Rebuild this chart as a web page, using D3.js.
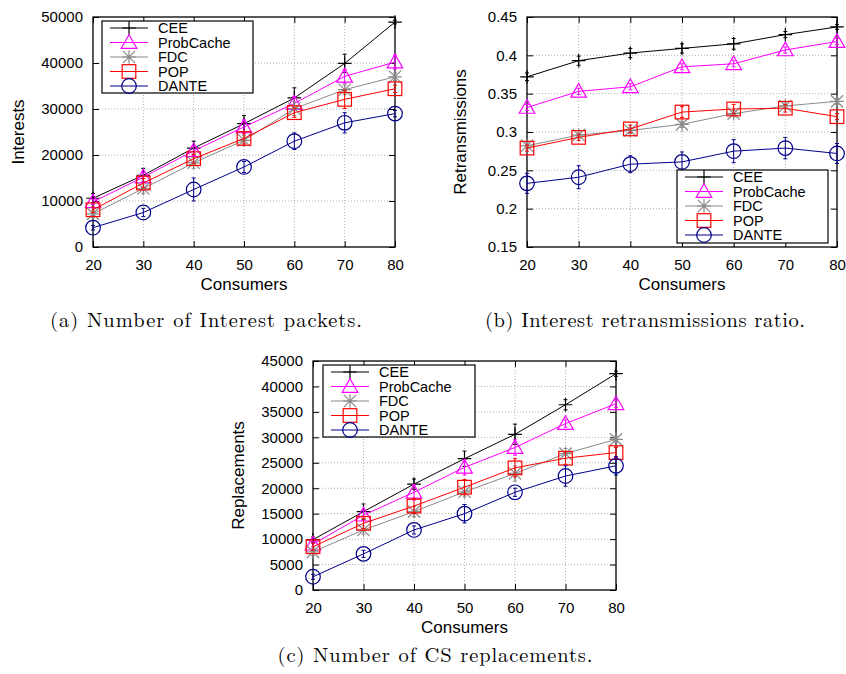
<!DOCTYPE html>
<html>
<head>
<meta charset="utf-8">
<script src="https://cdn.jsdelivr.net/npm/d3@7"></script>
<style>
  body { margin: 0; background: #fff; }
  svg { display: block; }
  .tick text { font-family: "Liberation Sans", Arial, sans-serif; }
</style>
</head>
<body>
<svg id="chart" width="846" height="674"></svg>
<script>
// consumers on the x axis, same for all three panels
const consumers = [20, 30, 40, 50, 60, 70, 80];
const seriesNames = ['CEE', 'ProbCache', 'FDC', 'POP', 'DANTE'];

// (a) number of Interest packets
const interestsCEE       = [10600, 15600, 21500, 26800, 32400, 39900, 48900];
const interestsProbCache = [9800, 15200, 20900, 26100, 31200, 37100, 40200];
const interestsFDC       = [7200, 12700, 18300, 23200, 30100, 34200, 37000];
const interestsPOP       = [8100, 13900, 19200, 23600, 29200, 32100, 34400];
const interestsDANTE     = [4200, 7500, 12500, 17400, 23000, 27000, 29000];
const interestsErr = [
  [1000, 1500, 1500, 1800, 2200, 2000, 400],
  [600, 1000, 1000, 1500, 1500, 1500, 1500],
  [800, 1000, 1200, 1000, 1500, 1000, 800],
  [600, 1000, 1000, 1200, 1000, 2000, 800],
  [500, 900, 2500, 1200, 1800, 2200, 700]
];
const interestsTicks = [0, 10000, 20000, 30000, 40000, 50000];

// (b) Interest retransmissions ratio
const retransCEE       = [0.372, 0.393, 0.403, 0.409, 0.415, 0.427, 0.437];
const retransProbCache = [0.332, 0.353, 0.359, 0.385, 0.389, 0.407, 0.418];
const retransFDC       = [0.282, 0.296, 0.302, 0.310, 0.324, 0.334, 0.340];
const retransPOP       = [0.279, 0.293, 0.304, 0.326, 0.330, 0.331, 0.320];
const retransDANTE     = [0.233, 0.241, 0.258, 0.261, 0.275, 0.279, 0.272];
const retransErr = [
  [0.005, 0.006, 0.006, 0.006, 0.007, 0.004, 0.003],
  [0.004, 0.004, 0.004, 0.004, 0.004, 0.004, 0.004],
  [0.004, 0.004, 0.004, 0.004, 0.004, 0.004, 0.004],
  [0.004, 0.004, 0.005, 0.007, 0.006, 0.005, 0.004],
  [0.013, 0.015, 0.011, 0.013, 0.015, 0.014, 0.013]
];
const retransTicks = [0.15, 0.2, 0.25, 0.3, 0.35, 0.4, 0.45];

// (c) number of CS replacements
const replCEE       = [9900, 15400, 20800, 25800, 30600, 36400, 42500];
const replProbCache = [9000, 14700, 19200, 24100, 28000, 32700, 36600];
const replFDC       = [7500, 11800, 15400, 19300, 22900, 26800, 29600];
const replPOP       = [8500, 13100, 16500, 20200, 24000, 25900, 27000];
const replDANTE     = [2600, 7100, 11800, 15000, 19200, 22400, 24400];
const replErr = [
  [500, 1500, 1000, 1500, 2000, 1000, 500],
  [500, 1000, 1500, 1500, 1500, 700, 700],
  [700, 800, 1000, 1000, 1500, 1000, 700],
  [700, 1000, 1500, 1500, 1800, 1200, 1000],
  [500, 700, 800, 1800, 800, 2000, 1800]
];
const replTicks = [0, 5000, 10000, 15000, 20000, 25000, 30000, 35000, 40000, 45000];

const colors = ['#000000', '#ff00ff', '#8a8a8a', '#ff0000', '#00008b'];
const shapes = ['plus', 'triangle', 'star', 'square', 'circle'];

const sans = '"Liberation Sans", Arial, Helvetica, sans-serif';
const serif = '"Latin Modern Roman", "DejaVu Serif", "Liberation Serif", serif';

const svg = d3.select('#chart');

function marker(g, shape, x, y, color) {
  const s = 6.8;
  const m = g.append('g').attr('transform', `translate(${x},${y})`)
    .attr('stroke', color).attr('fill', 'none').attr('stroke-width', 1.2);
  if (shape === 'plus') {
    m.append('path').attr('d', `M${-s},0H${s}M0,${-s}V${s}`);
  } else if (shape === 'triangle') {
    m.append('path').attr('d', `M0,${-s - 1}L${s + 1},${s - 1}L${-s - 1},${s - 1}Z`);
  } else if (shape === 'star') {
    const d = s * 0.9;
    m.append('path').attr('d', `M${-s},0H${s}M0,${-s}V${s}M${-d},${-d}L${d},${d}M${-d},${d}L${d},${-d}`);
  } else if (shape === 'square') {
    m.append('rect').attr('x', -s).attr('y', -s).attr('width', 2 * s).attr('height', 2 * s);
  } else if (shape === 'circle') {
    m.append('circle').attr('r', s + 0.5);
  }
}

function panel(cfg) {
  const { left, right, top, bottom } = cfg;
  const x = d3.scaleLinear().domain([20, 80]).range([left, right]);
  const y = d3.scaleLinear().domain(cfg.domain).range([bottom, top]);
  const g = svg.append('g');

  // grid (dotted)
  const grid = g.append('g').attr('stroke', '#9a9a9a').attr('stroke-width', 0.8)
    .attr('stroke-dasharray', '1,2');
  consumers.slice(1, -1).forEach(c => {
    grid.append('line').attr('x1', x(c)).attr('x2', x(c)).attr('y1', top).attr('y2', bottom);
  });
  cfg.ticks.slice(1, -1).forEach(t => {
    grid.append('line').attr('x1', left).attr('x2', right).attr('y1', y(t)).attr('y2', y(t));
  });

  // axes with inward ticks, mirrored
  const fmt = cfg.fmt;
  const ax = g.append('g').attr('transform', `translate(0,${bottom})`)
    .call(d3.axisBottom(x).tickValues(consumers).tickSize(-6).tickPadding(12).tickFormat(d3.format('d')));
  const axT = g.append('g').attr('transform', `translate(0,${top})`)
    .call(d3.axisTop(x).tickValues(consumers).tickSize(-6).tickFormat(''));
  const ay = g.append('g').attr('transform', `translate(${left},0)`)
    .call(d3.axisLeft(y).tickValues(cfg.ticks).tickSize(-6).tickPadding(10).tickFormat(fmt));
  const ayR = g.append('g').attr('transform', `translate(${right},0)`)
    .call(d3.axisRight(y).tickValues(cfg.ticks).tickSize(-6).tickFormat(''));
  [ax, axT, ay, ayR].forEach(a => {
    a.select('.domain').remove();
    a.selectAll('.tick line').attr('stroke', '#000').attr('stroke-width', 1);
    a.selectAll('.tick text').attr('font-size', 15).attr('fill', '#000').attr('font-family', sans);
  });
  g.append('rect').attr('x', left).attr('y', top).attr('width', right - left).attr('height', bottom - top)
    .attr('fill', 'none').attr('stroke', '#000').attr('stroke-width', 1.3);

  // series
  const line = d3.line().x((d, i) => x(consumers[i])).y(d => y(d));
  cfg.series.forEach((vals, si) => {
    const col = colors[si];
    const sg = g.append('g');
    sg.append('path').attr('d', line(vals)).attr('fill', 'none').attr('stroke', col).attr('stroke-width', 1);
    // error bars
    vals.forEach((v, i) => {
      const e = cfg.err[si][i];
      const cx = x(consumers[i]);
      sg.append('path')
        .attr('d', `M${cx},${y(v - e)}V${y(v + e)}M${cx - 2},${y(v - e)}H${cx + 2}M${cx - 2},${y(v + e)}H${cx + 2}`)
        .attr('stroke', col).attr('stroke-width', 1).attr('fill', 'none');
    });
    vals.forEach((v, i) => marker(sg, shapes[si], x(consumers[i]), y(v), col));
  });

  // legend
  const L = cfg.legend;
  const lg = g.append('g');
  lg.append('rect').attr('x', L.x).attr('y', L.y).attr('width', L.w).attr('height', L.h)
    .attr('fill', '#fff').attr('stroke', '#000').attr('stroke-width', 1.2);
  seriesNames.forEach((name, si) => {
    const ry = L.y + 7 + si * 14.5;
    lg.append('line').attr('x1', L.x + 8).attr('x2', L.x + 46).attr('y1', ry).attr('y2', ry)
      .attr('stroke', colors[si]).attr('stroke-width', 1.2);
    marker(lg, shapes[si], L.x + 27, ry, colors[si]);
    lg.append('text').attr('x', L.x + 56).attr('y', ry + 5).text(name)
      .attr('font-family', sans).attr('font-size', 14.5).attr('fill', '#000');
  });

  // axis titles
  g.append('text').attr('x', (left + right) / 2).attr('y', cfg.xTitleY).attr('text-anchor', 'middle')
    .attr('font-family', sans).attr('font-size', 17).text('Consumers');
  g.append('text').attr('transform', `translate(${cfg.yTitleX},${(top + bottom) / 2}) rotate(-90)`)
    .attr('text-anchor', 'middle').attr('font-family', sans).attr('font-size', 17).text(cfg.yTitle);

  // caption
  svg.append('text').attr('x', cfg.capX).attr('y', cfg.capY).attr('text-anchor', 'middle')
    .attr('font-family', serif).attr('font-size', 20.5)
    .attr('textLength', cfg.capW).attr('lengthAdjust', 'spacing').text(cfg.caption);
}

panel({
  left: 93, right: 395, top: 17, bottom: 247,
  domain: [0, 50000], ticks: interestsTicks, fmt: d3.format('d'),
  series: [interestsCEE, interestsProbCache, interestsFDC, interestsPOP, interestsDANTE],
  err: interestsErr,
  legend: { x: 102, y: 21, w: 151, h: 72 },
  xTitleY: 290, yTitleX: 24, yTitle: 'Interests',
  caption: '(a)  Number of Interest packets.', capX: 206, capY: 327, capW: 312
});

panel({
  left: 527, right: 837, top: 17, bottom: 247,
  domain: [0.15, 0.45], ticks: retransTicks, fmt: d => d3.format('')(+d.toFixed(2)),
  series: [retransCEE, retransProbCache, retransFDC, retransPOP, retransDANTE],
  err: retransErr,
  legend: { x: 677, y: 170, w: 151, h: 73 },
  xTitleY: 290, yTitleX: 466, yTitle: 'Retransmissions',
  caption: '(b)  Interest retransmissions ratio.', capX: 645, capY: 327, capW: 320
});

panel({
  left: 313, right: 616, top: 361, bottom: 590,
  domain: [0, 45000], ticks: replTicks, fmt: d3.format('d'),
  series: [replCEE, replProbCache, replFDC, replPOP, replDANTE],
  err: replErr,
  legend: { x: 323, y: 365, w: 152, h: 72 },
  xTitleY: 633, yTitleX: 244, yTitle: 'Replacements',
  caption: '(c)  Number of CS replacements.', capX: 435, capY: 662, capW: 315
});
</script>
</body>
</html>
